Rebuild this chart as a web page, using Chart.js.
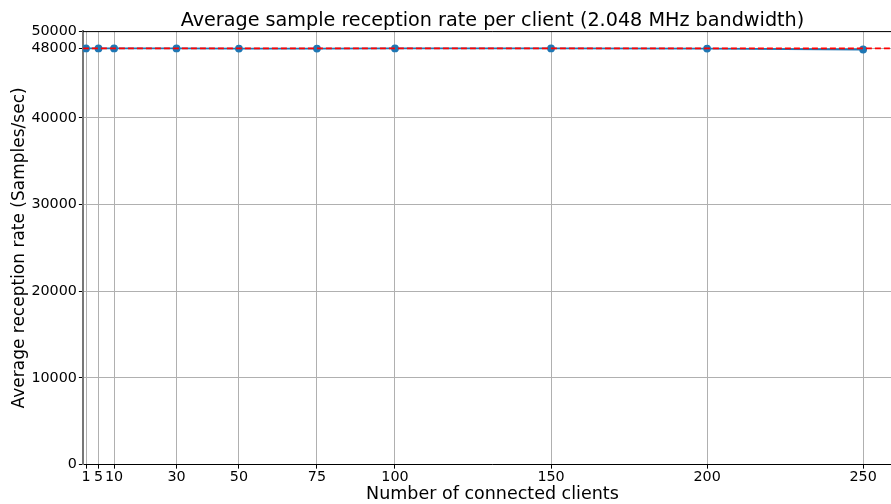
<!DOCTYPE html>
<html><head><meta charset="utf-8">
<script src="https://cdn.jsdelivr.net/npm/chart.js@4/dist/chart.umd.min.js"></script>
<style>html,body{margin:0;padding:0;background:#fff;overflow:hidden}#wrap{width:891px;height:504px;overflow:hidden}</style>
</head><body><div id="wrap"><canvas id="c" width="908" height="504"></canvas></div>
<script>
const clients = [1, 5, 10, 30, 50, 75, 100, 150, 200, 250];
const rates = [48000, 48000, 48000, 48000, 47990, 47990, 48000, 48010, 47990, 47880];
const xTicks = [1, 5, 10, 30, 50, 75, 100, 150, 200, 250];
const yTicks = [0, 10000, 20000, 30000, 40000, 48000, 50000];
const refRate = 48000;
const xRange = [0, 262.45];
const yRange = [0, 50000];

const F = "'DejaVu Sans', sans-serif";
const topSpine = {
  id: 'topSpine',
  afterDraw(chart) {
    const a = chart.chartArea, ctx = chart.ctx;
    ctx.save();
    ctx.strokeStyle = '#000'; ctx.lineWidth = 1;
    ctx.beginPath(); ctx.moveTo(a.left, a.top + 0.5); ctx.lineTo(a.right, a.top + 0.5); ctx.stroke();
    ctx.restore();
  }
};
new Chart(document.getElementById('c'), {
  type: 'line',
  data: {
    datasets: [
      { data: clients.map((x, i) => ({x, y: rates[i]})), borderColor: '#1f77b4', backgroundColor: '#1f77b4',
        borderWidth: 1.8, pointRadius: 3, pointHoverRadius: 3, order: 2 },
      { data: [{x: xRange[0], y: refRate}, {x: xRange[1], y: refRate}], borderColor: '#ff0000',
        borderWidth: 1.8, borderDash: [6, 3], pointRadius: 0, order: 1 }
    ]
  },
  options: {
    responsive: false, animation: false,
    layout: { padding: { left: 7, right: 6, top: 0, bottom: 0 } },
    plugins: {
      legend: { display: false }, tooltip: { enabled: false },
      title: { display: true, fullSize: false, text: 'Average sample reception rate per client (2.048 MHz bandwidth)',
        color: '#000', font: { family: F, size: 19.2, weight: 'normal', lineHeight: 1.1 }, padding: { top: 10, bottom: 0 } }
    },
    scales: {
      x: {
        type: 'linear', min: xRange[0], max: xRange[1],
        afterBuildTicks: ax => { ax.ticks = xTicks.map(v => ({value: v})); },
        ticks: { color: '#000', font: { family: F, size: 14.3, lineHeight: 0.6 }, autoSkip: false, maxRotation: 0, padding: 4 },
        grid: { color: '#b0b0b0', lineWidth: 1, drawTicks: true, tickLength: 4, tickColor: '#000' },
        border: { color: '#000', width: 1 },
        title: { display: true, text: 'Number of connected clients', color: '#000', font: { family: F, size: 17.5, lineHeight: 1.0 }, padding: { top: 0, bottom: 1.25 } }
      },
      y: {
        type: 'linear', min: yRange[0], max: yRange[1],
        afterBuildTicks: ax => { ax.ticks = yTicks.map(v => ({value: v})); },
        ticks: { color: '#000', font: { family: F, size: 14.3 }, autoSkip: false, padding: 2, callback: v => String(v) },
        grid: { color: '#b0b0b0', lineWidth: 1, drawTicks: true, tickLength: 4, tickColor: '#000' },
        border: { color: '#777', width: 2 },
        title: { display: true, text: 'Average reception rate (Samples/sec)', color: '#000', font: { family: F, size: 17 }, padding: { top: 2, bottom: 0 } }
      }
    }
  },
  plugins: [topSpine]
});
</script></body></html>
